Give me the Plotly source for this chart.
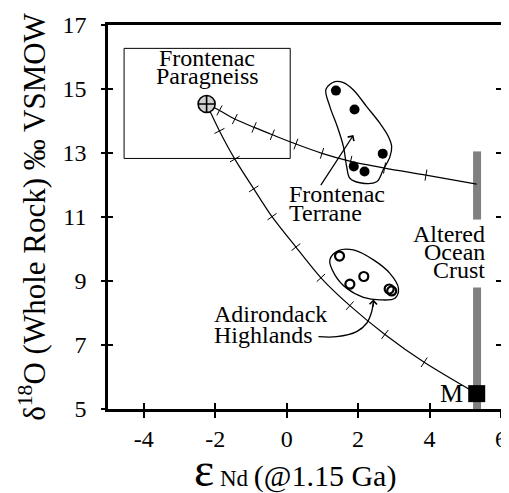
import numpy as np
import plotly.graph_objects as go

# ---- data ----
frontenac_x = [1.38, 1.90, 2.69, 1.88, 2.18]
frontenac_y = [14.95, 14.36, 12.98, 12.58, 12.42]

adirondack_x = [1.48, 1.77, 2.16, 2.87, 2.94]
adirondack_y = [9.78, 8.90, 9.14, 8.75, 8.69]

paragneiss_x = [-2.24]
paragneiss_y = [14.53]

mantle_x = [5.32]
mantle_y = [5.48]

# mixing curve to altered ocean crust (end-members + 10% steps)
upper_x = [-2.24, -1.88, -1.45, -0.91, -0.40, 0.26, 0.99, 1.79, 2.74, 3.90, 5.32]
upper_y = [14.53, 14.33, 14.06, 13.80, 13.57, 13.28, 12.99, 12.74, 12.53, 12.31, 12.03]

# mixing curve to mantle
lower_x = [-2.24, -1.88, -1.45, -0.92, -0.41, 0.26, 0.96, 1.77, 2.75, 3.85, 5.32]
lower_y = [14.53, 13.69, 12.81, 11.88, 11.01, 10.06, 9.10, 8.23, 7.33, 6.46, 5.48]

# altered ocean crust range (with a gap for the label)
aoc_x = [5.33, 5.33, None, 5.33, 5.33]
aoc_y = [13.05, 10.92, None, 8.80, 5.0]

# Frontenac Paragneiss field box
box_x = [-4.55, 0.10]
box_y = [12.83, 16.27]

# hand-drawn group outlines
front_outline_x = [1.35, 1.10, 1.21, 1.42, 1.59, 1.68, 1.77, 2.05, 2.52, 2.70, 2.89, 2.94, 2.85, 2.61, 2.24, 1.87, 1.59, 1.35]
front_outline_y = [15.23, 14.99, 14.45, 13.82, 13.20, 12.57, 12.21, 12.07, 12.10, 12.47, 12.88, 13.20, 13.51, 13.93, 14.45, 14.97, 15.20, 15.23]

adi_outline_x = [1.21, 1.45, 1.87, 2.43, 2.89, 3.13, 3.03, 2.61, 2.15, 1.68, 1.35, 1.21]
adi_outline_y = [9.66, 9.95, 9.97, 9.66, 9.24, 8.77, 8.46, 8.41, 8.49, 8.77, 9.19, 9.66]

adi_arrow_x = [0.89, 1.40, 1.96, 2.24, 2.38, 2.42]
adi_arrow_y = [7.26, 7.26, 7.42, 7.68, 8.04, 8.30]

x_ticks = [-4, -2, 0, 2, 4, 6]
y_ticks = [5, 7, 9, 11, 13, 15, 17]
x_range = [-5, 6]
y_range = [5, 17]

FONT = "Liberation Serif, Times New Roman, DejaVu Serif, serif"
PX_X = 392.7 / 11.0   # px per x unit (for tick orientation)
PX_Y = 384.0 / 12.0


def tick_angles(xs, ys):
    xs = np.asarray(xs, float)
    ys = np.asarray(ys, float)
    dx = np.gradient(xs) * PX_X
    dy = np.gradient(ys) * PX_Y
    return (-np.degrees(np.arctan2(dy, dx)))[1:-1]


fig = go.Figure()

# altered ocean crust bar
fig.add_trace(go.Scatter(x=aoc_x, y=aoc_y, mode="lines",
                         line=dict(color="#808080", width=8), hoverinfo="skip"))

# mixing curves
for cx, cy in [(upper_x, upper_y), (lower_x, lower_y)]:
    fig.add_trace(go.Scatter(x=cx, y=cy, mode="lines",
                             line=dict(color="black", width=1.2, shape="spline", smoothing=0.8),
                             hoverinfo="skip"))
    fig.add_trace(go.Scatter(x=cx[1:-1], y=cy[1:-1], mode="markers",
                             marker=dict(symbol="line-ns", size=8, angle=tick_angles(cx, cy),
                                         line=dict(color="black", width=1)),
                             hoverinfo="skip"))

# outlines
fig.add_trace(go.Scatter(x=front_outline_x, y=front_outline_y, mode="lines",
                         line=dict(color="black", width=1.3, shape="spline", smoothing=1.0),
                         hoverinfo="skip"))
fig.add_trace(go.Scatter(x=adi_outline_x, y=adi_outline_y, mode="lines",
                         line=dict(color="black", width=1.3, shape="spline", smoothing=1.0),
                         hoverinfo="skip"))
fig.add_trace(go.Scatter(x=adi_arrow_x, y=adi_arrow_y, mode="lines",
                         line=dict(color="black", width=1.3, shape="spline", smoothing=1.0),
                         hoverinfo="skip"))

# points
fig.add_trace(go.Scatter(x=frontenac_x, y=frontenac_y, mode="markers",
                         marker=dict(symbol="circle", size=10, color="black")))
fig.add_trace(go.Scatter(x=adirondack_x, y=adirondack_y, mode="markers",
                         marker=dict(symbol="circle-open", size=9, color="black",
                                     line=dict(width=2.2, color="black"))))
fig.add_trace(go.Scatter(x=paragneiss_x, y=paragneiss_y, mode="markers",
                         marker=dict(symbol="circle-cross", size=17, color="#d0d0d0",
                                     line=dict(width=1.6, color="black"))))
fig.add_trace(go.Scatter(x=mantle_x, y=mantle_y, mode="markers",
                         marker=dict(symbol="square", size=17, color="black",
                                     line=dict(width=0))))

# overlay axes carrying inward ticks (so the ticks cross the frame)
fig.add_trace(go.Scatter(x=[None], y=[None], xaxis="x2", yaxis="y2", showlegend=False))

fig.add_shape(type="rect", x0=box_x[0], x1=box_x[1], y0=box_y[0], y1=box_y[1],
              line=dict(color="black", width=1), layer="below")

ann_font = dict(family=FONT, size=24, color="black")
labels = [
    ("Frontenac", -3.63, 15.98, "left"),
    ("Paragneiss", -3.70, 15.41, "left"),
    ("Frontenac", 0.0, 11.72, "left"),
    ("Terrane", 0.0, 11.12, "left"),
    ("Altered", 5.62, 10.48, "right"),
    ("Ocean", 5.62, 9.90, "right"),
    ("Crust", 5.62, 9.34, "right"),
    ("Adirondack", -2.10, 7.96, "left"),
    ("Highlands", -2.10, 7.30, "left"),
]
for txt, ax_, ay_, xa in labels:
    fig.add_annotation(x=ax_, y=ay_, text=txt, showarrow=False, xanchor=xa,
                       yanchor="middle", font=ann_font)
fig.add_annotation(x=4.99, y=5.49, text="M", showarrow=False, xanchor="right",
                   yanchor="middle", font=dict(family=FONT, size=26, color="black"))

# arrows
fig.add_annotation(x=1.87, y=13.56, ax=0.93, ay=11.95, xref="x", yref="y",
                   axref="x", ayref="y", text="", showarrow=True,
                   arrowhead=4, arrowsize=1.1, arrowwidth=1.3, arrowcolor="black")
fig.add_annotation(x=2.43, y=8.42, ax=2.42, ay=8.15, xref="x", yref="y",
                   axref="x", ayref="y", text="", showarrow=True,
                   arrowhead=4, arrowsize=1.1, arrowwidth=1.3, arrowcolor="black")

# x-axis title as an annotation for precise placement
fig.add_annotation(x=0.476, y=-0.157, xref="paper", yref="paper", xanchor="center",
                   yanchor="middle", showarrow=False,
                   text="<span style='font-size:48px'>ε</span><span style='font-size:23px'> Nd </span>(@1.15 Ga)",
                   font=dict(family=FONT, size=30, color="black"))

axis_common = dict(showgrid=False, zeroline=False, automargin=False)
# the page body adds an 8 px offset, so the figure is sized to the visible area
fig.update_layout(
    width=501, height=485,
    margin=dict(l=100, r=8, t=17, b=84),
    paper_bgcolor="white", plot_bgcolor="white",
    showlegend=False,
    font=dict(family=FONT, color="black"),
    xaxis=dict(range=x_range, tickvals=x_ticks, ticktext=[str(v) for v in x_ticks],
               ticks="outside", ticklen=6, tickwidth=2, tickcolor="black",
               showline=True, linewidth=2.5, linecolor="black", mirror=True,
               tickfont=dict(family=FONT, size=24), ticklabelstandoff=0,
               **axis_common),
    yaxis=dict(range=y_range, tickvals=y_ticks, ticktext=[str(v) for v in y_ticks],
               ticks="outside", ticklen=4, tickwidth=2, tickcolor="black",
               showline=True, linewidth=2.5, linecolor="black", mirror="allticks",
               tickfont=dict(family=FONT, size=24), ticklabelstandoff=10,
               title=dict(text="δ<sup>18</sup>O (Whole Rock) ‰ VSMOW",
                          font=dict(family=FONT, size=31), standoff=8),
               **axis_common),
    xaxis2=dict(overlaying="x", anchor="y", range=x_range, tickvals=x_ticks,
                ticks="inside", ticklen=6, tickwidth=2, tickcolor="black",
                showticklabels=False, showline=False, side="bottom", **axis_common),
    yaxis2=dict(overlaying="y", anchor="x", range=y_range, tickvals=y_ticks,
                ticks="inside", ticklen=5, tickwidth=2, tickcolor="black",
                showticklabels=False, showline=False, side="left", mirror="allticks",
                **axis_common),
)

fig.write_html("out.html")
